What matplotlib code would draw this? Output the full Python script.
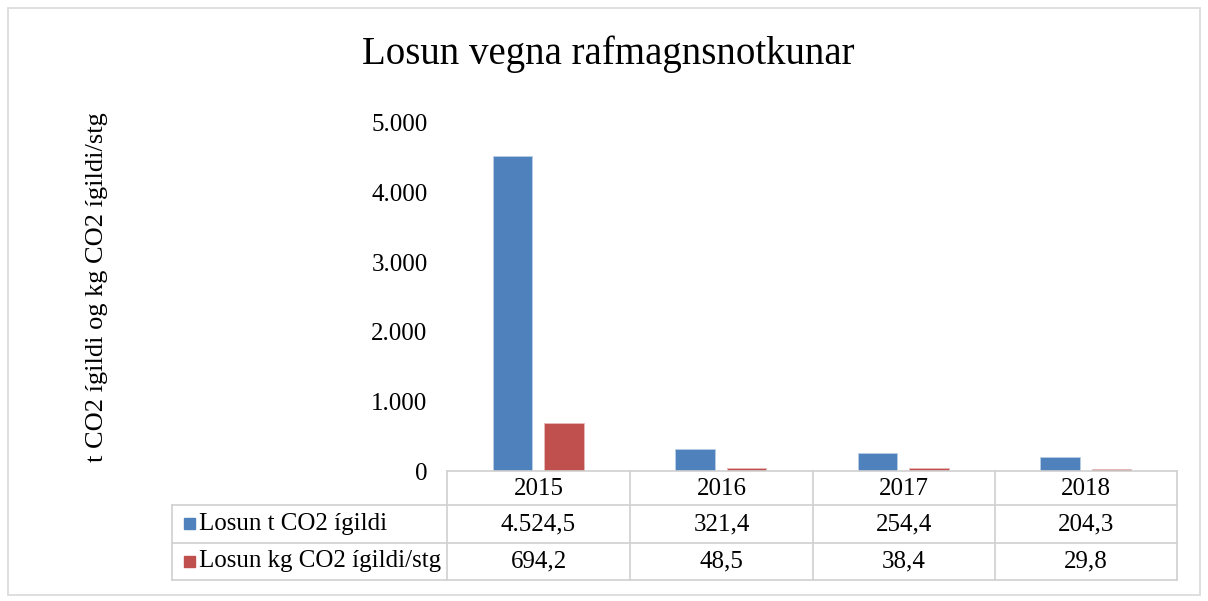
import matplotlib.pyplot as plt
import numpy as np
from matplotlib.lines import Line2D
from matplotlib.patches import Rectangle

plt.rcParams['font.family'] = ['Liberation Serif', 'DejaVu Serif']

years = ['2015', '2016', '2017', '2018']
tonn = [4524.5, 321.4, 254.4, 204.3]
kg_stg = [694.2, 48.5, 38.4, 29.8]
series_names = ['Losun t CO2 ígildi', 'Losun kg CO2 ígildi/stg']
colors = ['#4F81BD', '#C0504D']
yticks = [0, 1000, 2000, 3000, 4000, 5000]

W, H = 1208, 601


def fx(x):
    return x / W


def fy(y):
    return 1 - y / H


def isl(v, dec=1):
    s = f"{v:,.{dec}f}"
    return s.replace(',', '#').replace('.', ',').replace('#', '.')


def main():
    fig = plt.figure(figsize=(W / 100, H / 100), dpi=100)
    fig.patches.append(Rectangle((fx(8), fy(595)), fx(1192), (595 - 8) / H,
                                 transform=fig.transFigure, fill=False,
                                 edgecolor='#D9D9D9', linewidth=1.2))

    left, right, top, bottom = 447, 1177, 123, 471
    ax = fig.add_axes([fx(left), fy(bottom), (right - left) / W, (bottom - top) / H])
    x = np.arange(len(years))
    w = 0.215
    ax.bar(x - 0.141, tonn, w, color=colors[0], edgecolor='#B9CDE5', linewidth=0.6)
    ax.bar(x + 0.141, kg_stg, w, color=colors[1], edgecolor='#E6B9B8', linewidth=0.6)
    ax.set_xlim(-0.5, len(years) - 0.5)
    ax.set_ylim(0, 5000)
    ax.set_yticks(yticks)
    ax.set_yticklabels([isl(t, 0) for t in yticks], fontsize=18)
    ax.tick_params(axis='y', length=0, pad=14)
    ax.set_xticks([])
    for s in ax.spines.values():
        s.set_visible(False)

    fig.text(fx(608), fy(54), 'Losun vegna rafmagnsnotkunar', ha='center',
             va='center', fontsize=28)
    fig.text(fx(97), fy(287), 't CO2 ígildi og kg CO2 ígildi/stg', rotation=90,
             ha='center', va='center', fontsize=19)

    # data table
    lc = '#D0D0D0'
    cols = [447, 630, 813, 995, 1177]
    rows = [471, 505, 543, 580]
    for i, yy in enumerate(rows):
        x0 = 447 if i == 0 else 172
        fig.add_artist(Line2D([fx(x0), fx(1177)], [fy(yy), fy(yy)], color=lc, lw=1.2))
    for xx in cols:
        fig.add_artist(Line2D([fx(xx), fx(xx)], [fy(471), fy(580)], color=lc, lw=1.2))
    fig.add_artist(Line2D([fx(172), fx(172)], [fy(505), fy(580)], color=lc, lw=1.2))

    for j, yr in enumerate(years):
        cx = (cols[j] + cols[j + 1]) / 2
        fig.text(fx(cx), fy(489), yr, ha='center', va='center', fontsize=18)
    for r, vals in enumerate([tonn, kg_stg]):
        cy = (rows[r + 1] + rows[r + 2]) / 2
        fig.patches.append(Rectangle((fx(184), fy(cy + 5)), 11 / W, 11 / H,
                                     transform=fig.transFigure, color=colors[r]))
        fig.text(fx(199), fy(cy), series_names[r], ha='left', va='center', fontsize=18)
        for j, v in enumerate(vals):
            cx = (cols[j] + cols[j + 1]) / 2
            fig.text(fx(cx), fy(cy), isl(v), ha='center', va='center', fontsize=18)

    fig.savefig('out.png', dpi=100)


if __name__ == '__main__':
    main()
